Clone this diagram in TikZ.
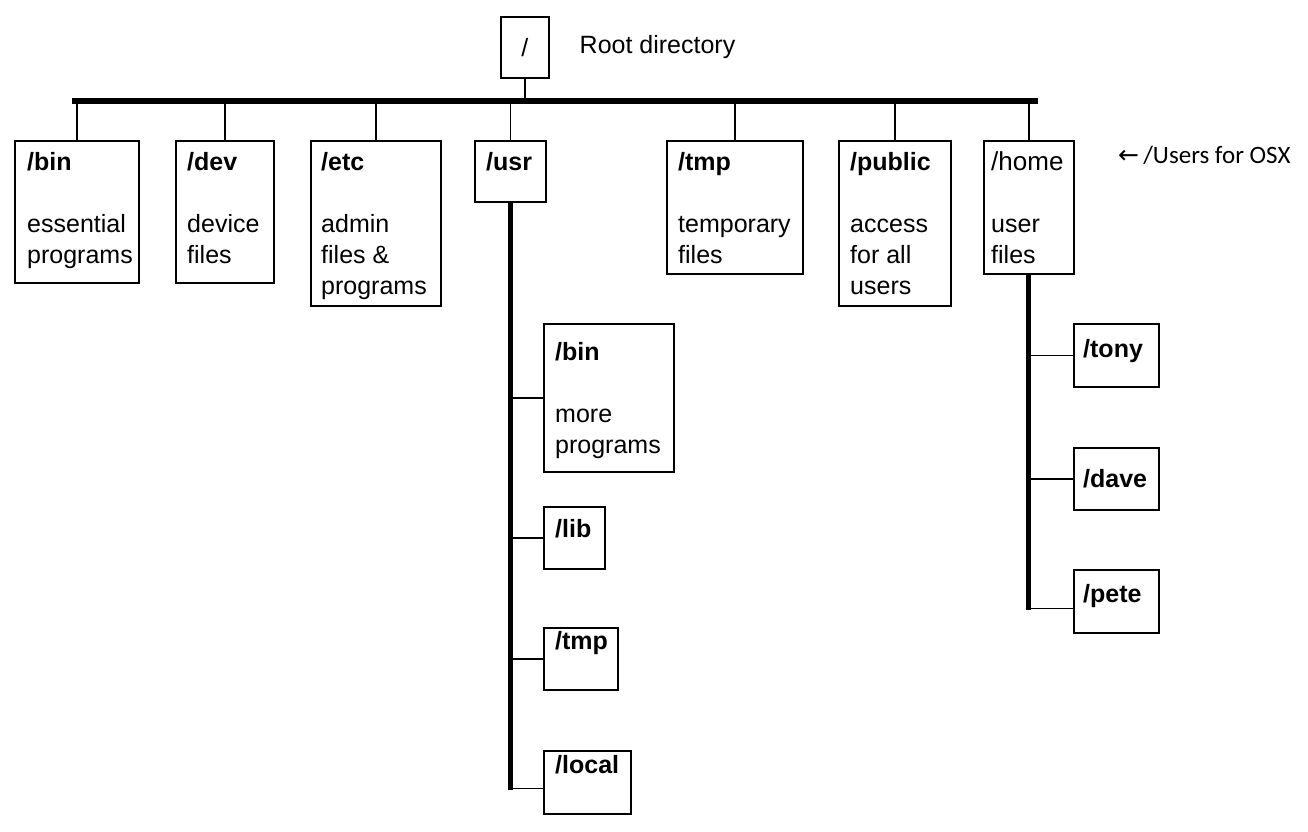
\documentclass[tikz,border=0pt]{standalone}
\usepackage{fontspec}
\setmainfont{Liberation Sans}
\newfontfamily\notefont{Carlito}
\newfontfamily\arrowfont{DejaVu Sans}
\usetikzlibrary{positioning}

\begin{document}
\begin{tikzpicture}[x=1pt, y=-1pt,
    every node/.style={font=\fontsize{25}{31}\selectfont},
    dir/.style={draw, line width=1.5pt, inner sep=0pt, anchor=north west},
    lbl/.style={inner sep=0pt, anchor=north west, align=left},
    bus/.style={line width=6pt},
    trunk/.style={line width=5pt},
    twig/.style={line width=1.5pt}]
  \useasboundingbox (0,0) rectangle (1308,831);

  % root
  \node[dir, minimum width=48pt, minimum height=61pt] (root) at (500,16) {/};
  \node[right=30pt of root, inner sep=0pt] (root-t) {Root directory};
  \coordinate (busL) at (72,101);
  \coordinate (busR) at (1038,101);

  % top level
  \node[dir, minimum width=124pt, minimum height=142pt] (bin) at (14,140) {};
  \node[dir, minimum width=98pt, minimum height=142pt] (dev) at (175,140) {};
  \node[dir, minimum width=130pt, minimum height=165pt] (etc) at (310,140) {};
  \node[dir, minimum width=71pt, minimum height=61pt] (usr) at (474,140) {};
  \node[dir, minimum width=136pt, minimum height=133pt] (tmp) at (666,140) {};
  \node[dir, minimum width=112pt, minimum height=165pt] (public) at (838,140) {};
  \node[dir, minimum width=90pt, minimum height=133pt] (home) at (983,140) {};

  \node[lbl] (bin-t) at ([shift={(13,12)}]bin.north west) {\textbf{/bin}\\[31pt]essential\\programs};
  \node[lbl] (dev-t) at ([shift={(12,12)}]dev.north west) {\textbf{/dev}\\[31pt]device\\files};
  \node[lbl] (etc-t) at ([shift={(11,12)}]etc.north west) {\textbf{/etc}\\[31pt]admin\\files \&\\programs};
  \node[lbl] (usr-t) at ([shift={(12,12)}]usr.north west) {\textbf{/usr}};
  \node[lbl] (tmp-t) at ([shift={(12,12)}]tmp.north west) {\textbf{/tmp}\\[31pt]temporary\\files};
  \node[lbl] (public-t) at ([shift={(12,12)}]public.north west) {\textbf{/public}\\[31pt]access\\for all\\users};
  \node[lbl] (home-t) at ([shift={(8,11)}]home.north west) {\fontsize{26}{31}\selectfont/home\\[31pt]user\\files};

  \node[anchor=west, inner sep=0pt] (osx) at (1118,155) {\arrowfont\fontsize{25}{28}\selectfont ←\,\notefont\fontsize{25}{28}\selectfont/Users for OSX};

  % under /usr
  \node[dir, minimum width=130pt, minimum height=148pt] (ubin) at (543,323) {};
  \node[dir, minimum width=61pt, minimum height=62pt] (ulib) at (543,506) {};
  \node[dir, minimum width=74pt, minimum height=62pt] (utmp) at (543,627) {};
  \node[dir, minimum width=87pt, minimum height=63pt] (ulocal) at (543,750) {};

  \node[lbl] (ubin-t) at ([shift={(12,19)}]ubin.north west) {\textbf{/bin}\\[31pt]more\\programs};
  \node[lbl] (ulib-t) at ([shift={(12,13)}]ulib.north west) {\textbf{/lib}};
  \node[lbl] (utmp-t) at ([shift={(12,4)}]utmp.north west) {\textbf{/tmp}};
  \node[lbl] (ulocal-t) at ([shift={(12,5)}]ulocal.north west) {\textbf{/local}};

  % under /home
  \node[dir, minimum width=85pt, minimum height=63pt] (tony) at (1073,323) {};
  \node[dir, minimum width=85pt, minimum height=62pt] (dave) at (1073,447) {};
  \node[dir, minimum width=85pt, minimum height=63pt] (pete) at (1073,569) {};

  \node[lbl] (tony-t) at ([shift={(10,16)}]tony.north west) {\textbf{/tony}};
  \node[lbl] (dave-t) at ([shift={(10,22)}]dave.north west) {\textbf{/dave}};
  \node[lbl] (pete-t) at ([shift={(10,15)}]pete.north west) {\textbf{/pete}};

  % lines
  \draw[bus] (busL) -- (busR);
  \draw[twig] (root.south) -- (root.south |- busL);
  \foreach \d in {bin,dev,etc,usr,tmp,public,home}
    \draw[twig] (\d.north) -- (\d.north |- busL);

  \draw[trunk] (usr.south) -- ([yshift=-8pt]usr.south |- ulocal.west);
  \foreach \d in {ubin,ulib,utmp}
    \draw[twig] (\d.west) -- (\d.west -| usr.south);
  \draw[twig] ([yshift=-6pt]ulocal.west) -- ([yshift=-6pt]ulocal.west -| usr.south);

  \draw[trunk] (home.south) -- ([yshift=-9pt]home.south |- pete.west);
  \foreach \d in {tony,dave}
    \draw[twig] (\d.west) -- (\d.west -| home.south);
  \draw[twig] ([yshift=-7pt]pete.west) -- ([yshift=-7pt]pete.west -| home.south);
\end{tikzpicture}
\end{document}
